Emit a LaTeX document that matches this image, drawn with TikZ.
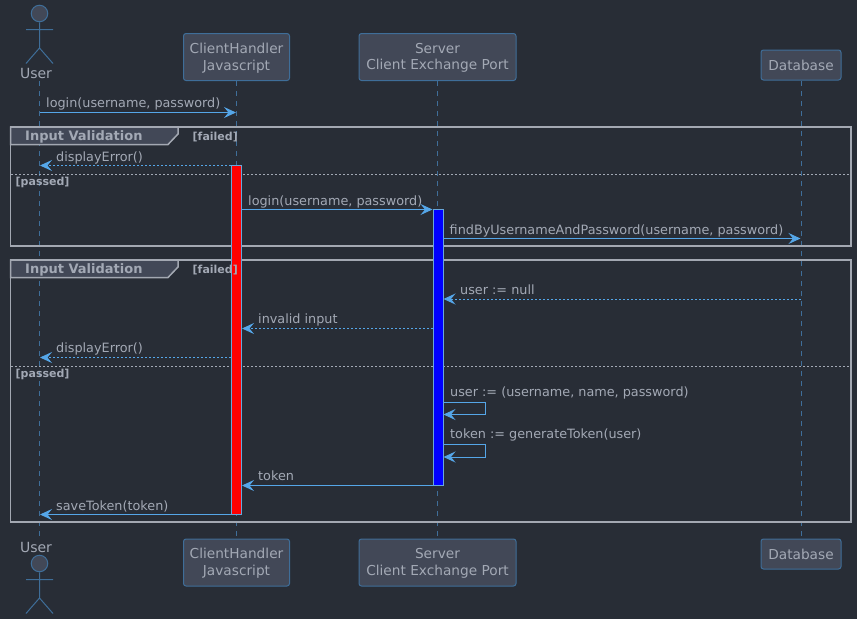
\documentclass[tikz,border=0pt]{standalone}
\usepackage{fontspec}
\setmainfont{DejaVu Sans}
\usetikzlibrary{arrows.meta,positioning,calc}
\definecolor{bgc}{HTML}{282D36}
\definecolor{boxf}{HTML}{424857}
\definecolor{boxb}{HTML}{3F6E99}
\definecolor{txtc}{HTML}{A3A9B5}
\definecolor{arrc}{HTML}{55A6E8}
\definecolor{frmc}{HTML}{A3A8B2}
\tikzset{
 x=1pt,y=-1pt,
 partbox/.style={draw=boxb,fill=boxf,rounded corners=2.5pt,line width=1pt,text=txtc,font=\fontsize{13.7}{16.5}\selectfont,align=center,inner sep=0pt,anchor=center},
 partlabel/.style={text=txtc,font=\fontsize{13.7}{16.5}\selectfont,align=center,inner sep=0pt,anchor=center},
 lifeline/.style={draw=boxb,line width=1pt,dash pattern=on 5pt off 5pt},
 actorline/.style={draw=boxb,line width=1pt},
 actorhead/.style={circle,draw=boxb,fill=boxf,line width=1pt,minimum size=16.5pt,inner sep=0pt},
 actorlabel/.style={text=txtc,font=\fontsize{14}{16}\selectfont,inner sep=0pt},
 msg/.style={draw=arrc,line width=1pt,-{Stealth[length=12pt,width=11pt,inset=4.5pt,fill=arrc]}},
 ret/.style={msg,dash pattern=on 2pt off 2pt},
 msglabel/.style={text=txtc,font=\fontsize{12.8}{16}\selectfont,anchor=base west,inner sep=0pt},
 frameline/.style={draw=frmc,line width=1.5pt},
 tabshape/.style={draw=frmc,fill=boxf,line width=1.5pt},
 tablabel/.style={text=txtc,font=\bfseries\fontsize{13}{16}\selectfont,anchor=base west,inner sep=0pt},
 guard/.style={text=txtc,font=\bfseries\fontsize{11}{14}\selectfont,anchor=base west,inner sep=0pt},
 sepline/.style={draw=txtc,line width=1pt,dash pattern=on 2pt off 2pt},
 activation/.style={draw=arrc!75!txtc,line width=1pt},
}
\begin{document}
\begin{tikzpicture}
\useasboundingbox (0,0) rectangle (857,619);
\fill[bgc] (0,0) rectangle (857,619);
% lifelines
\coordinate (ut) at (39.5,81); \coordinate (ub) at (39.5,540);
\coordinate (ct) at (236.5,81); \coordinate (cb) at (236.5,540);
\coordinate (st) at (437.5,81); \coordinate (sb) at (437.5,540);
\coordinate (dt) at (801,81); \coordinate (db) at (801,540);
\draw[lifeline] (ut) -- (ub);
\draw[lifeline] (ct) -- (cb);
\draw[lifeline] (st) -- (sb);
\draw[lifeline] (dt) -- (db);
% participants
\node[partbox,minimum width=106pt,minimum height=47pt] (c1) at (236.5,57) {};
\node[partlabel] (c1t) at (236.5,58) {ClientHandler\\Javascript};
\node[partbox,minimum width=106pt,minimum height=47pt] (c2) at (236.5,562.5) {};
\node[partlabel] (c2t) at (236.5,563.3) {ClientHandler\\Javascript};
\node[partbox,minimum width=157pt,minimum height=47pt] (s1) at (437.5,57) {};
\node[partlabel] (s1t) at (437.5,58) {Server\\Client Exchange Port};
\node[partbox,minimum width=157pt,minimum height=47pt] (s2) at (437.5,562.5) {};
\node[partlabel] (s2t) at (437.5,563.3) {Server\\Client Exchange Port};
\node[partbox,minimum width=80pt,minimum height=30pt] (d1) at (801,65) {Database};
\node[partbox,minimum width=80pt,minimum height=30pt] (d2) at (801,554) {Database};
% actors
\node[actorhead] (h1) at (39.5,13.5) {};
\coordinate (n1) at (39.5,48); \coordinate (a1l) at (26,29.5); \coordinate (a1r) at (53,29.5);
\coordinate (l1l) at (26,63.5); \coordinate (l1r) at (53,63.5);
\draw[actorline] (h1) -- (n1) (a1l) -- (a1r) (l1l) -- (n1) -- (l1r);
\node[actorlabel] (ul1) at (36,73) {User};
\node[actorlabel] (ul2) at (36,547) {User};
\node[actorhead] (h2) at (39.5,563.5) {};
\coordinate (n2) at (39.5,598); \coordinate (a2l) at (26,579.5); \coordinate (a2r) at (53,579.5);
\coordinate (l2l) at (26,613.5); \coordinate (l2r) at (53,613.5);
\draw[actorline] (h2) -- (n2) (a2l) -- (a2r) (l2l) -- (n2) -- (l2r);
% frames
\draw[frameline] (10.5,127) rectangle (851,246);
\draw[frameline] (10.5,260) rectangle (851,522);
\draw[tabshape] (10.5,127) -- (178,127) -- (178,134) -- (168,144.5) -- (10.5,144.5) -- cycle;
\draw[tabshape] (10.5,260) -- (178,260) -- (178,267) -- (168,277.5) -- (10.5,277.5) -- cycle;
\node[tablabel] (t1) at (25,140) {Input Validation};
\node[tablabel] (t2) at (25,273) {Input Validation};
\draw[sepline] (11,174.5) -- (851,174.5);
\draw[sepline] (11,366.5) -- (851,366.5);
\node[guard] (p1) at (15.5,185) {[passed]};
\node[guard] (p2) at (15.5,377) {[passed]};
% activations
\draw[activation,fill=red] (231.5,165.5) rectangle (241.5,514.5);
\draw[activation,fill=blue] (433,209.5) rectangle (443,485.5);
% guards sit above the activation bars
\node[guard] (g1) at (192.5,140) {[failed]};
\node[guard] (g2) at (192.5,273) {[failed]};
% messages
\coordinate (m1a) at (39.5,112.5); \coordinate (m1b) at (236,112.5);
\draw[msg] (m1a) -- (m1b);
\node[msglabel] at (46,107) {login(username, password)};
\coordinate (m2a) at (231,165.5); \coordinate (m2b) at (40,165.5);
\draw[ret] (m2a) -- (m2b);
\node[msglabel] at (56,161) {displayError()};
\coordinate (m3a) at (242,209.5); \coordinate (m3b) at (432.5,209.5);
\draw[msg] (m3a) -- (m3b);
\node[msglabel] at (248,205) {login(username, password)};
\coordinate (m4a) at (443.5,238.5); \coordinate (m4b) at (800.5,238.5);
\draw[msg] (m4a) -- (m4b);
\node[msglabel] at (449.5,234) {findByUsernameAndPassword(username, password)};
\coordinate (m5a) at (800.5,299); \coordinate (m5b) at (443.5,299);
\draw[ret] (m5a) -- (m5b);
\node[msglabel] at (460,294) {user := null};
\coordinate (m6a) at (432.5,328.5); \coordinate (m6b) at (242,328.5);
\draw[ret] (m6a) -- (m6b);
\node[msglabel] at (258,323) {invalid input};
\coordinate (m7a) at (231,357.5); \coordinate (m7b) at (40,357.5);
\draw[ret] (m7a) -- (m7b);
\node[msglabel] at (56,352) {displayError()};
\coordinate (m8a) at (443.5,402); \coordinate (m8c) at (485.5,402); \coordinate (m8d) at (485.5,414.5); \coordinate (m8b) at (443.5,414.5);
\draw[msg] (m8a) -- (m8c) -- (m8d) -- (m8b);
\node[msglabel] at (450,396) {user := (username, name, password)};
\coordinate (m9a) at (443.5,444.5); \coordinate (m9c) at (485.5,444.5); \coordinate (m9d) at (485.5,457); \coordinate (m9b) at (443.5,457);
\draw[msg] (m9a) -- (m9c) -- (m9d) -- (m9b);
\node[msglabel] at (450,438) {token := generateToken(user)};
\coordinate (m10a) at (432.5,485.5); \coordinate (m10b) at (242,485.5);
\draw[msg] (m10a) -- (m10b);
\node[msglabel] at (258,480) {token};
\coordinate (m11a) at (231,514.5); \coordinate (m11b) at (40,514.5);
\draw[msg] (m11a) -- (m11b);
\node[msglabel] at (56,510) {saveToken(token)};
\end{tikzpicture}
\end{document}
